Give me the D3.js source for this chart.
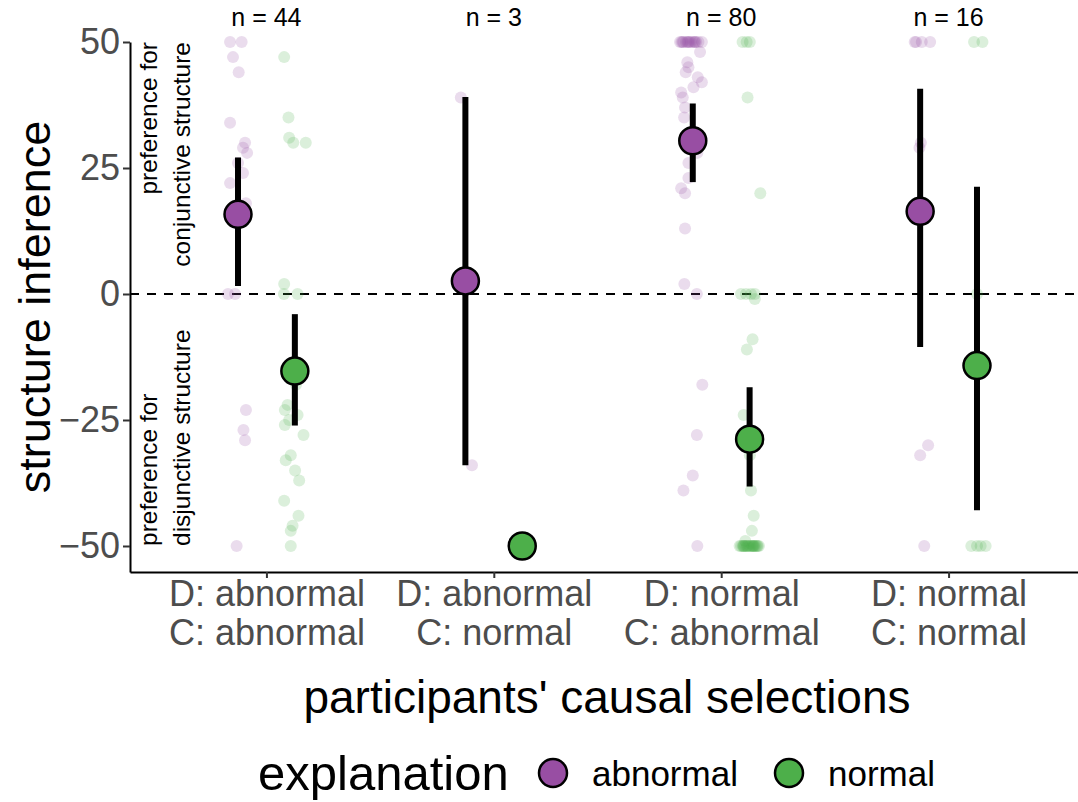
<!DOCTYPE html>
<html>
<head>
<meta charset="utf-8">
<script src="https://cdn.jsdelivr.net/npm/d3@7"></script>
<style>
  body { margin: 0; background: #fff; }
  svg { display: block; font-family: "Liberation Sans", Arial, sans-serif; }
</style>
</head>
<body>
<svg width="1078" height="802"></svg>
<script>
// categories, one entry per x position (two label lines each)
var categories = ["D: abnormal|C: abnormal", "D: abnormal|C: normal", "D: normal|C: abnormal", "D: normal|C: normal"];
var counts = [44, 3, 80, 16];
var groups = ["abnormal", "normal"];
var groupColors = ["#984EA3", "#4DAF4A"];
var yTicks = [-50, -25, 0, 25, 50];

// means and 95% intervals
var meanAbnormal = [15.8, 2.6, 30.4, 16.4];
var lowAbnormal  = [1.6, -34.0, 22.2, -10.5];
var highAbnormal = [27.1, 39.1, 37.8, 40.7];
var meanNormal = [-15.3, -50, -28.8, -14.2];
var lowNormal  = [-26.1, null, -38.2, -42.9];
var highNormal = [-4.0, null, -18.5, 21.3];

// individual responses: [value, jitter (fraction of category step)]
var pointsAbnormal = [
  [[50,-0.035],[50,0.016],[47,-0.022],[44,0.003],[34,-0.035],[30,0.031],[29,0.022],[28,0.040],[26,0.000],[24,0.022],
   [22,-0.035],[18,0.035],[16,0.010],[0,-0.044],[0,-0.013],[-23,0.035],[-27,0.024],[-29,0.031],[-50,-0.006]],
  [[39,-0.020],[-34,0.029]],
  [[50,-0.056],[50,-0.041],[50,-0.024],[50,-0.009],[50,0.007],[50,0.040],[50,-0.050],[50,-0.030],[50,-0.015],[50,0.000],
   [50,0.015],[50,0.025],[50,-0.045],[50,-0.020],[50,0.010],
   [48,0.032],[46,-0.024],[45,-0.019],[44,-0.031],[43,0.022],[42,0.040],[41,0.003],[40,-0.051],[39,-0.044],[37,-0.034],
   [35,-0.038],[32,0.010],[30,-0.010],[28,0.020],[26,-0.019],[23,-0.019],[21,-0.051],[20,-0.034],[13,-0.034],[2,-0.037],
   [0,0.018],[-18,0.042],[-28,0.018],[-36,0.000],[-39,-0.041],[-50,0.020]],
  [[50,-0.024],[50,-0.018],[50,0.007],[50,0.044],[30,0.003],[29,-0.003],[-30,0.035],[-32,0.000],[-50,0.018]]
];
var pointsNormal = [
  [[47,-0.047],[35,-0.028],[31,-0.025],[30,-0.007],[30,0.048],[2,-0.047],[0,-0.048],[0,0.012],[-15,0.000],[-18,0.005],
   [-22,-0.032],[-23,-0.044],[-24,0.012],[-25,-0.025],[-26,-0.044],[-28,0.038],[-32,-0.018],[-33,-0.040],[-35,0.001],
   [-37,0.019],[-41,-0.047],[-44,0.016],[-46,-0.010],[-47,-0.018],[-50,-0.018]],
  [[-50,0.000]],
  [[50,-0.031],[50,-0.013],[50,0.001],[39,-0.009],[20,0.047],[0,-0.038],[0,-0.016],[0,0.006],[0,0.023],[-1,0.023],
   [-9,0.013],[-11,-0.012],[-24,-0.026],[-32,0.001],[-39,0.006],[-44,0.018],[-47,0.010],[-49,-0.019],
   [-50,-0.044],[-50,-0.038],[-50,-0.031],[-50,-0.027],[-50,-0.022],[-50,-0.017],[-50,-0.012],[-50,-0.009],[-50,-0.004],
   [-50,0.001],[-50,0.006],[-50,0.011],[-50,0.014],[-50,0.019],[-50,0.023],[-50,0.028],[-50,0.033],[-50,0.036],
   [-50,0.041],[-50,-0.026],[-50,0.017]],
  [[50,-0.013],[50,0.024],[0,0.000],[-50,-0.025],[-50,0.000],[-50,0.016],[-50,0.038]]
];

var svg = d3.select("svg");
var grey30 = "#4D4D4D";

var x = d3.scalePoint().domain(categories).range([130, 1085]).padding(0.6);
var y = d3.scaleLinear().domain([-55.16, 50]).range([572, 42]);
var step = x.step();
var dodge = 0.125;

var series = [
  {name: groups[0], color: groupColors[0], off: -dodge, mean: meanAbnormal, low: lowAbnormal, high: highAbnormal, pts: pointsAbnormal},
  {name: groups[1], color: groupColors[1], off: dodge, mean: meanNormal, low: lowNormal, high: highNormal, pts: pointsNormal}
];

// dashed zero line
svg.append("line")
  .attr("x1", 130).attr("x2", 1085)
  .attr("y1", y(0)).attr("y2", y(0))
  .attr("stroke", "#000").attr("stroke-width", 2)
  .attr("stroke-dasharray", "9,8");

// jittered raw points
series.forEach(function(s) {
  var flat = [];
  s.pts.forEach(function(arr, i) {
    arr.forEach(function(p) { flat.push({cat: categories[i], v: p[0], j: p[1]}); });
  });
  svg.append("g").selectAll("circle")
    .data(flat)
    .enter()
    .append("circle")
    .attr("cx", function(d) { return x(d.cat) + (s.off + d.j) * step; })
    .attr("cy", function(d) { return y(d.v); })
    .attr("r", 6)
    .attr("fill", s.color)
    .attr("fill-opacity", 0.2);
});

// error bars and means
series.forEach(function(s) {
  var rows = categories.map(function(c, i) {
    return {cat: c, m: s.mean[i], lo: s.low[i], hi: s.high[i]};
  });
  svg.append("g").selectAll("line")
    .data(rows.filter(function(d) { return d.lo !== null; }))
    .enter()
    .append("line")
    .attr("x1", function(d) { return x(d.cat) + s.off * step; })
    .attr("x2", function(d) { return x(d.cat) + s.off * step; })
    .attr("y1", function(d) { return y(d.lo); })
    .attr("y2", function(d) { return y(d.hi); })
    .attr("stroke", "#000")
    .attr("stroke-width", 6);
  svg.append("g").selectAll("circle")
    .data(rows)
    .enter()
    .append("circle")
    .attr("cx", function(d) { return x(d.cat) + s.off * step; })
    .attr("cy", function(d) { return y(d.m); })
    .attr("r", 13.5)
    .attr("fill", s.color)
    .attr("stroke", "#000")
    .attr("stroke-width", 2.5);
});

// n labels
svg.append("g").selectAll("text")
  .data(categories)
  .enter()
  .append("text")
  .attr("x", function(d) { return x(d); })
  .attr("y", 26)
  .attr("text-anchor", "middle")
  .attr("font-size", 25)
  .attr("fill", "#000")
  .text(function(d, i) { return "n = " + counts[i]; });

// y axis
var yAxis = svg.append("g")
  .attr("transform", "translate(130,0)")
  .call(d3.axisLeft(y).tickValues(yTicks).tickSize(7).tickSizeOuter(0).tickPadding(3).tickFormat(d3.format("d")));
yAxis.select(".domain").attr("stroke", "#000").attr("stroke-width", 2);
yAxis.selectAll(".tick line").attr("stroke", "#333").attr("stroke-width", 2);
yAxis.selectAll(".tick text").attr("fill", grey30).attr("font-size", 36).attr("font-family", null);

// x axis
var xAxis = svg.append("g")
  .attr("transform", "translate(0,572)")
  .call(d3.axisBottom(x).tickSize(6).tickSizeOuter(0).tickPadding(4));
xAxis.select(".domain").attr("stroke", "#000").attr("stroke-width", 2);
xAxis.selectAll(".tick line").attr("stroke", "#333").attr("stroke-width", 2);
xAxis.selectAll(".tick text").each(function(d) {
  var t = d3.select(this).text("").attr("fill", grey30).attr("font-size", 36).attr("font-family", null).attr("dy", null).attr("y", 0);
  d.split("|").forEach(function(line, k) {
    t.append("tspan").attr("x", 0).attr("y", 34 + k * 39).text(line);
  });
});

// axis titles
svg.append("text")
  .attr("transform", "translate(50," + ((y(50) + 572) / 2) + ") rotate(-90)")
  .attr("text-anchor", "middle")
  .attr("font-size", 45)
  .text("structure inference");

svg.append("text")
  .attr("x", 607).attr("y", 713)
  .attr("text-anchor", "middle")
  .attr("font-size", 46)
  .text("participants' causal selections");

// side annotations
var noteTop = ["preference for", "conjunctive structure"];
var noteBottom = ["preference for", "disjunctive structure"];
noteTop.forEach(function(line, k) {
  svg.append("text")
    .attr("transform", "translate(" + (157 + k * 33) + "," + y(50) + ") rotate(-90)")
    .attr("text-anchor", "end")
    .attr("font-size", 24.5)
    .text(line);
});
noteBottom.forEach(function(line, k) {
  svg.append("text")
    .attr("transform", "translate(" + (157 + k * 33) + "," + y(-50) + ") rotate(-90)")
    .attr("text-anchor", "start")
    .attr("font-size", 24.5)
    .text(line);
});

// legend
var legend = svg.append("g");
legend.append("text")
  .attr("x", 258).attr("y", 790)
  .attr("font-size", 49)
  .text("explanation");
var legendX = [553, 789];
groups.forEach(function(g, i) {
  legend.append("circle")
    .attr("cx", legendX[i]).attr("cy", 773)
    .attr("r", 14)
    .attr("fill", groupColors[i])
    .attr("stroke", "#000").attr("stroke-width", 2.5);
  legend.append("text")
    .attr("x", legendX[i] + 39).attr("y", 786)
    .attr("font-size", 35)
    .text(g);
});
</script>
</body>
</html>
